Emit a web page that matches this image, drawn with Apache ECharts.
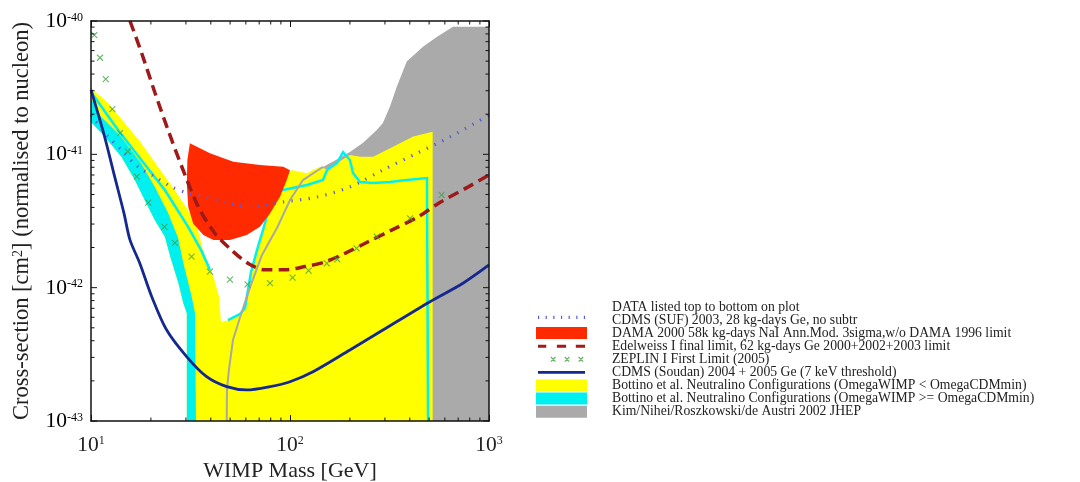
<!DOCTYPE html>
<html>
<head>
<meta charset="utf-8">
<script src="https://cdn.jsdelivr.net/npm/echarts@6/dist/echarts.min.js"></script>
<style>
  html, body { margin: 0; padding: 0; background: #fff; }
  #main { width: 1080px; height: 482px; }
</style>
</head>
<body>
<div id="main"></div>
<script>
const serif = '"Liberation Serif", "DejaVu Serif", serif';

// axis range (GeV, cm^2)
const xMin = 10, xMax = 1000;
const yMin = 1e-43, yMax = 1e-40;
const yMajor = [1e-43, 1e-42, 1e-41, 1e-40];
const xMinor = [20, 30, 40, 50, 60, 70, 80, 90, 200, 300, 400, 500, 600, 700, 800, 900];
const yMinor = [2e-43, 3e-43, 4e-43, 5e-43, 6e-43, 7e-43, 8e-43, 9e-43,
                2e-42, 3e-42, 4e-42, 5e-42, 6e-42, 7e-42, 8e-42, 9e-42,
                2e-41, 3e-41, 4e-41, 5e-41, 6e-41, 7e-41, 8e-41, 9e-41];

const names = [
  'CDMS (SUF) 2003, 28 kg-days Ge, no subtr',
  'DAMA 2000 58k kg-days NaI Ann.Mod. 3sigma,w/o DAMA 1996 limit',
  'Edelweiss I final limit, 62 kg-days Ge 2000+2002+2003 limit',
  'ZEPLIN I First Limit (2005)',
  'CDMS (Soudan) 2004 + 2005 Ge (7 keV threshold)',
  'Bottino et al. Neutralino Configurations (OmegaWIMP < OmegaCDMmin)',
  'Bottino et al. Neutralino Configurations (OmegaWIMP >= OmegaCDMmin)',
  'Kim/Nihei/Roszkowski/de Austri 2002 JHEP'
];

// CDMS SUF (dotted)
const sufMass  = [10, 12.2, 14.2, 17.2, 20.9, 25.3, 30.7, 37.3, 45.2, 54.8, 63.9, 92.2, 137, 200, 293, 435, 637, 1000];
const sufSigma = [1.97e-41, 1.36e-41, 1.08e-41, 8.07e-42, 6.8e-42, 5.72e-42, 5.1e-42, 4.81e-42, 4.41e-42, 4.17e-42, 4.06e-42, 4.39e-42, 4.79e-42, 5.69e-42, 7.63e-42, 1.02e-41, 1.35e-41, 1.97e-41];

// Edelweiss (dashed)
const edelMass  = [15.7, 18.0, 21.0, 24.4, 28.6, 34.6, 42.0, 50.9, 61.7, 74.8, 94.3, 119, 150, 189, 247, 324, 441, 556, 787, 1000];
const edelSigma = [1.0e-40, 5.7e-41, 2.87e-41, 1.52e-41, 8.07e-42, 4.05e-42, 2.55e-42, 1.91e-42, 1.52e-42, 1.36e-42, 1.36e-42, 1.44e-42, 1.56e-42, 1.81e-42, 2.21e-42, 2.7e-42, 3.4e-42, 4.28e-42, 5.7e-42, 7.0e-42];

// ZEPLIN I (x markers)
const zepMass  = [10.39, 11.1, 11.86, 12.8, 14.0, 15.3, 17.0, 19.4, 23.4, 26.4, 32.0, 39.6, 49.9, 61.2, 79.3, 103, 124, 153, 173, 216, 273, 401, 578];
const zepSigma = [7.85e-41, 5.3e-41, 3.66e-41, 2.18e-41, 1.44e-41, 1.05e-41, 6.8e-42, 4.34e-42, 2.86e-42, 2.17e-42, 1.71e-42, 1.32e-42, 1.15e-42, 1.06e-42, 1.08e-42, 1.19e-42, 1.34e-42, 1.52e-42, 1.63e-42, 1.97e-42, 2.41e-42, 3.31e-42, 4.96e-42];

// CDMS Soudan (solid)
const soudanMass  = [10, 11.7, 13.15, 14.65, 15.7, 17.6, 20.2, 24.0, 30.3, 38.1, 48.1, 60.6, 79.4, 100, 130.5, 200, 293, 505, 740, 1000];
const soudanSigma = [3.04e-41, 1.36e-41, 6.8e-42, 3.61e-42, 2.28e-42, 1.52e-42, 8.55e-43, 4.81e-43, 3.03e-43, 2.15e-43, 1.81e-43, 1.71e-43, 1.81e-43, 1.97e-43, 2.34e-43, 3.41e-43, 4.81e-43, 7.85e-43, 1.08e-42, 1.48e-42];

// DAMA region
const damaRegion = [[31.4, 1.21e-41], [39.6, 1.02e-41], [51.9, 8.8e-42], [70.6, 8.3e-42], [92.5, 8.07e-42], [100, 7.6e-42],
  [96.2, 6.4e-42], [89.1, 4.8e-42], [79.3, 3.6e-42], [70.6, 2.86e-42], [60.6, 2.48e-42], [49.9, 2.28e-42], [41.2, 2.28e-42],
  [36.7, 2.48e-42], [32.6, 3.03e-42], [30.8, 4.05e-42], [30.3, 6.05e-42], [30.5, 9.06e-42]];

// Bottino (OmegaWIMP < OmegaCDMmin)
const yellowRegion = [[10.0, 3.15e-41], [12.2, 2.43e-41], [14.8, 1.71e-41], [17.9, 1.21e-41], [21.7, 8.07e-42], [26.3, 5.4e-42],
  [30.7, 3.82e-42], [34.5, 2.71e-42], [36.5, 1.92e-42], [41.0, 1.25e-42], [44.0, 8.5e-43], [45.0, 5.5e-43], [48.8, 5.7e-43],
  [56.1, 6.35e-43], [59.4, 7.0e-43], [61.5, 9.6e-43], [63.7, 1.31e-42], [68.3, 1.92e-42], [73.2, 2.71e-42], [79.4, 4.17e-42],
  [85.0, 5.22e-42], [92.2, 6.42e-42], [102, 7.63e-42], [121, 7.21e-42], [141.5, 8.07e-42], [156, 7.63e-42], [172, 8.56e-42],
  [200, 9.89e-42], [225, 9.6e-42], [262, 9.6e-42], [306, 1.08e-41], [357, 1.21e-41], [416, 1.36e-41], [521, 1.48e-41],
  [521, 1e-43], [30.3, 1e-43], [30.3, 6.42e-43], [29.1, 7.63e-43], [27.5, 1.08e-42], [25.0, 1.71e-42], [23.5, 2.41e-42],
  [20.9, 3.22e-42], [18.6, 4.54e-42], [16.6, 6.42e-42], [14.2, 9.6e-42], [11.7, 1.36e-41], [10.0, 1.75e-41]];

// Bottino (OmegaWIMP >= OmegaCDMmin): band plus two edge lines
const cyanRegion = [[10, 1.75e-41], [11.7, 1.36e-41], [14.2, 9.6e-42], [16.6, 6.42e-42], [18.6, 4.54e-42], [20.9, 3.22e-42],
  [23.5, 2.41e-42], [25.0, 1.71e-42], [27.5, 1.08e-42], [29.1, 7.63e-43], [30.3, 6.42e-43], [30.3, 1e-43], [33.7, 1e-43],
  [33.3, 6.46e-43], [32.1, 8.5e-43], [29.1, 1.53e-42], [27.4, 2.36e-42], [24.4, 3.63e-42], [20.9, 5.72e-42], [17.8, 8.6e-42],
  [14.15, 1.36e-41], [11.2, 1.92e-41], [10, 2.65e-41]];
const cyanEdgeLeft = [[10, 2.93e-41], [13.67, 1.52e-41], [17.9, 9.07e-42], [23.5, 5.4e-42], [30.7, 2.87e-42], [35.7, 1.92e-42], [39.6, 1.36e-42]];
const cyanEdgeRight = [[48.8, 5.72e-43], [56.1, 6.35e-43], [59.4, 7.04e-43], [61.5, 9.6e-43], [63.7, 1.31e-42], [68.3, 1.92e-42],
  [73.2, 2.71e-42], [79.4, 4.17e-42], [83.1, 5.13e-42], [92.2, 5.4e-42], [121.7, 5.89e-42], [146.5, 6.42e-42], [153.5, 7.63e-42],
  [172.2, 8.61e-42], [184.7, 1.04e-41], [200, 9.07e-42], [207.3, 7.24e-42], [224.8, 6.2e-42], [261.3, 6.1e-42], [318, 6.2e-42],
  [387, 6.42e-42], [488, 6.64e-42], [494, 1e-43]];

// Kim et al. region and its lower edge
const grayRegion = [[48.1, 1e-43], [48.2, 1.71e-43], [49.3, 2.41e-43], [51.7, 4.05e-43], [56.1, 6.0e-43], [63.0, 1.01e-42],
  [72.3, 1.76e-42], [86.0, 2.8e-42], [100, 4.54e-42], [116, 6.4e-42], [138, 7.6e-42], [146.5, 8.04e-42], [170, 9.07e-42],
  [200, 1.04e-41], [233, 1.22e-41], [273, 1.52e-41], [293, 1.72e-41], [318, 2.28e-41], [344, 3.21e-41], [386, 4.96e-41],
  [466, 6.4e-41], [546, 7.6e-41], [659, 9.06e-41], [1000, 9.06e-41], [1000, 1e-43]];
const grayEdge = grayRegion.slice(0, 12);

const zip = (a, b) => a.map((v, i) => [v, b[i]]);

function region(name, pts, color, z, lines) {
  return {
    name: name, type: 'custom', z: z, clip: true, silent: true,
    itemStyle: { color: color },
    data: pts,
    renderItem: function (params, api) {
      if (params.dataIndex > 0) return null;
      const kids = [{ type: 'polygon', shape: { points: pts.map(p => api.coord(p)) }, style: { fill: color } }];
      (lines || []).forEach(function (l) {
        kids.push({ type: 'polyline', shape: { points: l.map(p => api.coord(p)) },
                    style: { stroke: color, lineWidth: 2.5, fill: null } });
      });
      return { type: 'group', children: kids };
    }
  };
}

// "10" with a raised exponent
const powLabel = v => '{b|10}{s|' + Math.round(Math.log10(v)) + '}';
const powRich = {
  b: { fontFamily: serif, fontSize: 21.5, lineHeight: 21, verticalAlign: 'bottom', color: '#222' },
  s: { fontFamily: serif, fontSize: 12, lineHeight: 12, padding: [0, 0, 16, 0], verticalAlign: 'top', color: '#222' }
};

// inward ticks on both sides; major ticks on y also carry the labels
function tickSeries(vals, horizontal, len, withLabel) {
  return {
    type: 'custom', z: 20, silent: true, clip: false,
    data: vals.map(v => horizontal ? [v, yMin] : [xMin, v]),
    renderItem: function (params, api) {
      const v = horizontal ? api.value(0) : api.value(1);
      const a = api.coord(horizontal ? [v, yMin] : [xMin, v]);
      const b = api.coord(horizontal ? [v, yMax] : [xMax, v]);
      const s = { stroke: '#111', lineWidth: 1 };
      const kids = horizontal ? [
        { type: 'line', shape: { x1: a[0], y1: a[1], x2: a[0], y2: a[1] - len }, style: s },
        { type: 'line', shape: { x1: b[0], y1: b[1], x2: b[0], y2: b[1] + len }, style: s }
      ] : [
        { type: 'line', shape: { x1: a[0], y1: a[1], x2: a[0] + len, y2: a[1] }, style: s },
        { type: 'line', shape: { x1: b[0], y1: b[1], x2: b[0] - len, y2: b[1] }, style: s }
      ];
      if (withLabel) {
        kids.push({ type: 'text', x: a[0] - 8, y: a[1] + 1,
          style: { text: powLabel(v), rich: powRich, align: 'right', verticalAlign: 'middle' } });
      }
      return { type: 'group', children: kids };
    }
  };
}

function logAxis(pos, isX, show) {
  return {
    type: 'log', position: pos, min: isX ? xMin : yMin, max: isX ? xMax : yMax, logBase: 10, z: 30,
    axisLine: { show: true, onZero: false, lineStyle: { color: '#111', width: 1.5 } },
    axisTick: { show: isX, inside: true, length: 6, lineStyle: { color: '#111', width: 1 } },
    splitLine: { show: false },
    axisLabel: show ? { formatter: powLabel, rich: powRich, margin: 14 } : { show: false }
  };
}

const xAxisMain = logAxis('bottom', true, true);
xAxisMain.name = 'WIMP Mass [GeV]';
xAxisMain.nameLocation = 'middle';
xAxisMain.nameGap = 39;
xAxisMain.nameMoveOverlap = false;
xAxisMain.nameTextStyle = { fontFamily: serif, fontSize: 22, color: '#222' };

const yAxisMain = logAxis('left', false, false);
yAxisMain.name = 'Cross-section [cm{sup|2}] (normalised to nucleon)';
yAxisMain.nameLocation = 'middle';
yAxisMain.nameGap = 57;
yAxisMain.nameMoveOverlap = false;
yAxisMain.nameTextStyle = { fontFamily: serif, fontSize: 22.5, color: '#222',
  rich: { sup: { fontFamily: serif, fontSize: 14, color: '#222', verticalAlign: 'top' } } };

// legend icons (51 x 13 box)
const box = 'M0,0M51,13';
const dotIcon = 'path://' + box + 'M0,2h1.3v3.5h-1.3zM8.3,2h1.3v3.5h-1.3zM16.6,2h1.3v3.5h-1.3zM24.9,2h1.3v3.5h-1.3zM33.2,2h1.3v3.5h-1.3zM41.5,2h1.3v3.5h-1.3zM49.7,2h1.3v3.5h-1.3z';
const dashIcon = 'path://' + box + 'M0,5h9v3.2h-9zM20.5,5h10v3.2h-10zM41,5h10v3.2h-10z';
const solidIcon = 'path://' + box + 'M0,5h51v3h-51z';
const crossIcon = 'path://' + box + 'M14,4L19,9M19,4L14,9M29,4L34,9M34,4L29,9M44,4L49,9M49,4L44,9';

const chart = echarts.init(document.getElementById('main'), null, { renderer: 'canvas' });
chart.setOption({
  animation: false,
  backgroundColor: '#fff',
  grid: { left: 91, top: 21, width: 398, height: 400, containLabel: false, outerBoundsMode: 'none' },
  xAxis: [xAxisMain, logAxis('top', true, false)],
  yAxis: [yAxisMain, logAxis('right', false, false)],
  graphic: [{
    type: 'text', left: 612, top: 300,
    style: { text: 'DATA listed top to bottom on plot', font: '13.7px ' + serif, fill: '#222' }
  }],
  legend: {
    orient: 'vertical', left: 536, top: 313, padding: 0, selectedMode: false,
    itemWidth: 51, itemHeight: 12, itemGap: -0.9,
    textStyle: { fontFamily: serif, fontSize: 13.7, color: '#222', padding: [0, 0, 0, 20] },
    data: [
      { name: names[0], icon: dotIcon, itemStyle: { color: '#5a5ae0' } },
      { name: names[1], icon: 'rect' },
      { name: names[2], icon: dashIcon, itemStyle: { color: '#a31a1a' } },
      { name: names[3], icon: crossIcon, itemStyle: { color: 'rgba(0,0,0,0)', borderColor: '#44a044', borderWidth: 1.2 } },
      { name: names[4], icon: solidIcon, itemStyle: { color: '#15288f' } },
      { name: names[5], icon: 'rect' },
      { name: names[6], icon: 'rect' },
      { name: names[7], icon: 'rect' }
    ]
  },
  series: [
    region(names[7], grayRegion, '#aaaaaa', 1),
    region(names[5], yellowRegion, '#ffff00', 2),
    region(names[6], cyanRegion, '#00f0f0', 3, [cyanEdgeLeft, cyanEdgeRight]),
    region(names[1], damaRegion, '#ff2a00', 4),
    {
      name: 'kim-edge', type: 'line', z: 5, data: grayEdge, symbol: 'none', silent: true,
      lineStyle: { color: '#a8a8a8', width: 2 }
    },
    {
      name: names[0], type: 'line', z: 6, data: zip(sufMass, sufSigma), symbol: 'none', smooth: 0.3,
      lineStyle: { color: '#5a5ae0', width: 3.2, type: [1.3, 7.3] }, itemStyle: { color: '#5a5ae0' }
    },
    {
      name: names[2], type: 'line', z: 6, data: zip(edelMass, edelSigma), symbol: 'none', smooth: 0.3,
      lineStyle: { color: '#9e1a1a', width: 3.5, type: [11, 6] }, itemStyle: { color: '#9e1a1a' }
    },
    {
      name: names[4], type: 'line', z: 6, data: zip(soudanMass, soudanSigma), symbol: 'none', smooth: 0.3,
      lineStyle: { color: '#15288f', width: 2.8 }, itemStyle: { color: '#15288f' }
    },
    {
      name: names[3], type: 'scatter', z: 7, data: zip(zepMass, zepSigma),
      symbol: 'path://M0,0L8,8M8,0L0,8', symbolSize: 6,
      itemStyle: { color: 'rgba(0,0,0,0)', borderColor: '#44a044', borderWidth: 1.1 }
    },
    tickSeries(xMinor, true, 3.5, false),
    tickSeries(yMinor, false, 3.5, false),
    tickSeries(yMajor, false, 6, true)
  ]
});
</script>
</body>
</html>
